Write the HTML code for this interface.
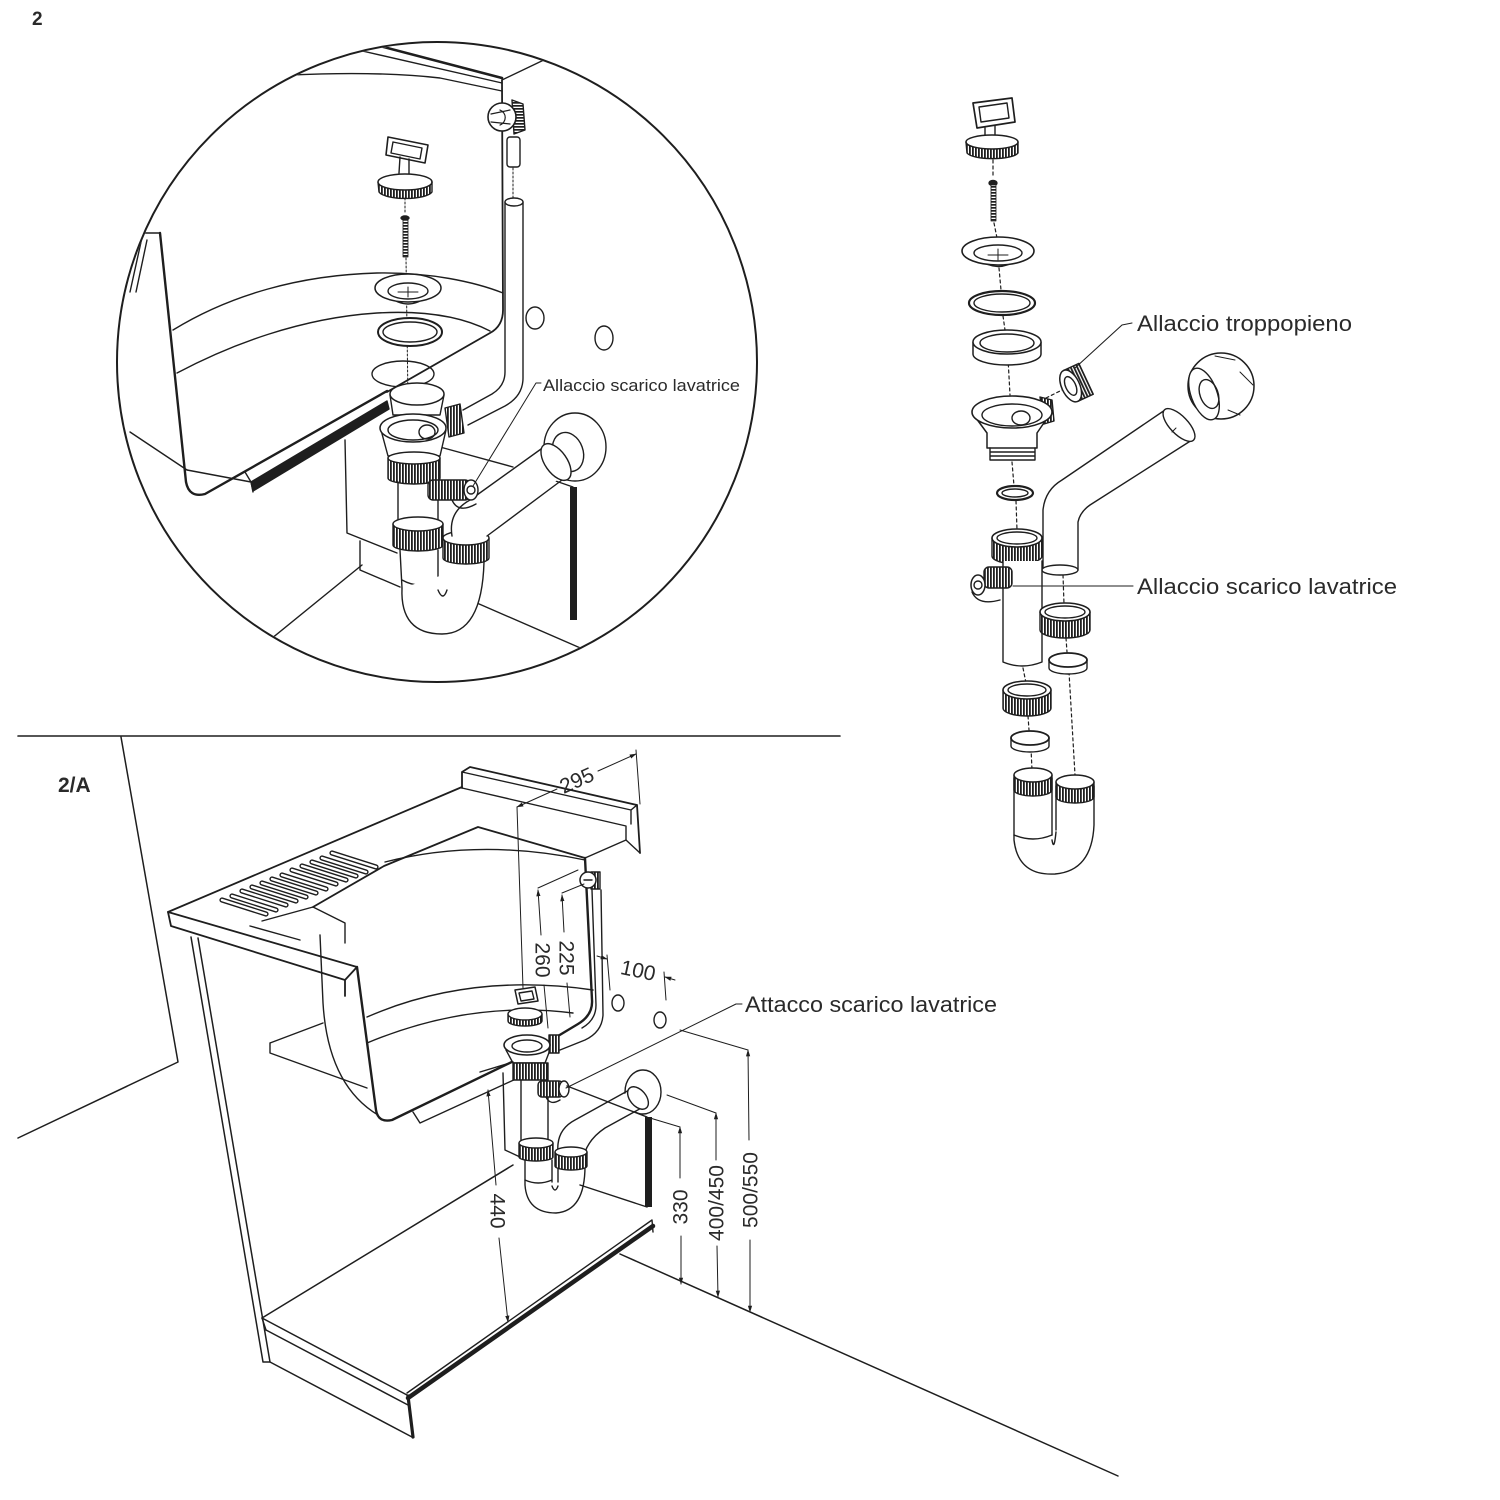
<!DOCTYPE html>
<html><head><meta charset="utf-8"><style>
html,body{margin:0;padding:0;background:#fff;}
svg{display:block;}
text{font-family:"Liberation Sans",Arial,sans-serif;fill:#2a2a2a;}
</style></head><body>
<svg width="1500" height="1500" viewBox="0 0 1500 1500" xmlns="http://www.w3.org/2000/svg">
<defs>
<pattern id="h" width="3" height="4" patternUnits="userSpaceOnUse"><rect width="3" height="4" fill="#fff"/><rect width="1.8" height="4" fill="#1e1e1e"/></pattern>
<pattern id="hh" width="4" height="3" patternUnits="userSpaceOnUse"><rect width="4" height="3" fill="#fff"/><rect width="4" height="1.7" fill="#1e1e1e"/></pattern>
<clipPath id="cc"><circle cx="437" cy="362" r="319"/></clipPath>
<marker id="ar" viewBox="0 0 10 10" refX="9" refY="5" markerWidth="7" markerHeight="7" orient="auto-start-reverse"><path d="M0,2 L10,5 L0,8 Z" fill="#1e1e1e"/></marker>
</defs>

<text x="32" y="25" font-size="19" font-weight="bold">2</text>
<text x="58" y="792" font-size="21" font-weight="bold">2/A</text>

<g fill="none" stroke="#1e1e1e" stroke-width="1.4" stroke-linejoin="round" stroke-linecap="round">

<!-- ============ CIRCLE DETAIL ============ -->
<g clip-path="url(#cc)">
  <path d="M290,75 Q380,71 440,78 L502,91"/>
  <path d="M358,50 L502,83"/>
  <path d="M376,45 L502,78" stroke-width="2.6"/>
  <path d="M502,80 L548,58"/>
  <path d="M502,80 L503,310 Q503,326 490,333 L387,392" stroke-width="1.8"/>
  <path d="M130,292 L143,233 L160,233"/>
  <path d="M136,292 L147,240"/>
  <path d="M160,233 L186,482 Q189,498 205,494 L387,391" stroke-width="2.4"/>
  <path d="M173,330 C230,295 300,275 377,273 C430,272 475,282 503,293"/>
  <path d="M177,373 C230,345 300,318 377,313 C430,310 465,318 490,331"/>
  <polygon points="251,482 387,401 389,409 253,491" fill="#1e1e1e"/>
  <path d="M245,472 L251,482 L253,492"/>
  <path d="M187,470 L251,482"/>
  <path d="M130,432 L187,470"/>

  <path d="M345,440 L347,533 L397,553"/>
  <path d="M360,541 L360,570 L400,587"/>
  <path d="M255,652 L362,565"/>
  <path d="M440,447 L513,467"/>
  <path d="M547,478 L573,487"/>
  <path d="M470,600 L585,650"/>
  <rect x="570" y="487" width="7" height="133" fill="#1e1e1e" stroke="none"/>

  <ellipse cx="535" cy="318" rx="9" ry="11"/>
  <ellipse cx="604" cy="338" rx="9" ry="12"/>

  <path d="M505,202 L505,372 Q505,386 492,394 L463,410" fill="none"/>
  <path d="M523,202 L523,378 Q523,396 505,406 L468,425"/>
  <ellipse cx="514" cy="202" rx="9" ry="4" fill="#fff"/>
  <path d="M513,168 L513,198" stroke-dasharray="2 2" stroke-width="1"/>
  <rect x="507" y="137" width="13" height="30" rx="3" fill="#fff"/>
  <path d="M512,100 L523,104 L525,130 L514,134 Z" fill="url(#hh)"/>
  <circle cx="502" cy="117" r="14" fill="#fff" stroke-width="1.6"/>
  <path d="M491,114 L510,110 M491,122 L510,124 M500,110 A8,8 0 0 1 500,125" stroke-width="1.2"/>

  <polygon points="388,137 428,145 425,163 386,155" fill="#fff" stroke-width="1.6"/>
  <polygon points="393,142 422,148 420,159 391,153"/>
  <path d="M400,157 L399,173 M409,159 L409,174"/>
  <path d="M378,182 L379,192 A27,8 0 0 0 432,192 L432,182 Z" fill="url(#h)"/>
  <ellipse cx="405" cy="182" rx="27" ry="8" fill="#fff" stroke-width="1.5"/>
  <path d="M405,198 L405,214" stroke-dasharray="2 2" stroke-width="1"/>
  <ellipse cx="405" cy="218" rx="4" ry="2" fill="#1e1e1e"/>
  <rect x="403" y="220" width="5" height="37" fill="url(#hh)" stroke-width="0.8"/>
  <path d="M406,258 L409,470" stroke-dasharray="2 2" stroke-width="1"/>
  <path d="M388,296 Q408,312 428,296" fill="#fff"/>
  <ellipse cx="408" cy="288" rx="33" ry="14" fill="#fff" stroke-width="1.5"/>
  <ellipse cx="408" cy="291" rx="20" ry="8"/>
  <path d="M398,292 L418,292 M408,287 L408,297" stroke-width="1"/>
  <ellipse cx="410" cy="332" rx="32" ry="14" fill="#fff" stroke-width="2"/>
  <ellipse cx="410" cy="332" rx="27" ry="10"/>
  <ellipse cx="403" cy="374" rx="31" ry="13"/>
  <path d="M390,395 L393,415 L440,415 L444,395" fill="#fff"/>
  <ellipse cx="417" cy="394" rx="27" ry="11" fill="#fff" stroke-width="1.5"/>
  <path d="M445,408 L460,404 L464,433 L449,437 Z" fill="url(#h)"/>
  <path d="M381,430 L388,456 L440,456 L446,430" fill="#fff"/>
  <ellipse cx="413" cy="428" rx="33" ry="14" fill="#fff" stroke-width="1.5"/>
  <ellipse cx="413" cy="430" rx="25" ry="10"/>
  <ellipse cx="427" cy="432" rx="8" ry="7"/>
  <path d="M388,458 L388,478 A26,6 0 0 0 440,478 L440,458 Z" fill="url(#h)"/>
  <ellipse cx="414" cy="458" rx="26" ry="6" fill="#fff"/>
  <path d="M398,482 L398,523 M438,482 L438,523"/>
  <path d="M393,524 L393,545 A25,6 0 0 0 443,545 L443,524 Z" fill="url(#h)"/>
  <ellipse cx="418" cy="524" rx="25" ry="7" fill="#fff"/>
  <path d="M400,550 L402,588 M438,550 L438,587"/>
  <path d="M402,580 Q420,590 438,580"/>
  <path d="M402,588 Q400,634 442,634 Q482,634 484,562" fill="#fff"/>
  <path d="M438,590 Q443,602 447,590"/>
  <path d="M443,538 L443,558 A23,6 0 0 0 489,558 L489,538 Z" fill="url(#h)"/>
  <ellipse cx="466" cy="538" rx="23" ry="7" fill="#fff"/>
  <!-- rosette (flat) -->
  <ellipse cx="575" cy="447" rx="31" ry="34" fill="#fff" stroke-width="1.4"/>
  <ellipse cx="568" cy="452" rx="15" ry="20" transform="rotate(-20 568 452)"/>
  <path d="M452,536 Q448,512 470,500 L550,445 L570,470 L487,536 Z" fill="#fff" stroke="none"/>
  <path d="M452,536 Q448,512 470,500 L548,444"/>
  <path d="M487,536 L562,480"/>
  <ellipse cx="556" cy="462" rx="11" ry="21" transform="rotate(-35 556 462)" fill="#fff"/>
  <path d="M452,500 Q458,514 476,504" />
  <rect x="428" y="480" width="42" height="20" rx="5" fill="url(#h)"/>
  <ellipse cx="471" cy="490" rx="7" ry="10" fill="#fff"/>
  <circle cx="471" cy="490" r="4"/>
  <path d="M541,383 L536,383 L473,486" stroke-width="1"/>
</g>
<circle cx="437" cy="362" r="320" stroke-width="2"/>

<path d="M18,736 L840,736" stroke-width="1.6"/>

<!-- ============ EXPLODED VIEW ============ -->
<g>
  <polygon points="973,103 1012,98 1015,122 977,128" fill="#fff" stroke-width="1.7"/>
  <polygon points="979,107 1007,103 1009,118 981,122"/>
  <path d="M985,128 L985,136 M995,126 L995,136"/>
  <path d="M966,142 L967,153 A26,7 0 0 0 1018,153 L1018,142 Z" fill="url(#h)"/>
  <ellipse cx="992" cy="142" rx="26" ry="7" fill="#fff" stroke-width="1.5"/>
  <path d="M993,160 L993,178 M994,223 L997,238 M999,268 L1001,290 M1003,316 L1005,330 M1008,358 L1010,395 M1012,462 L1014,486 M1016,501 L1017,530 M1023,668 L1026,683 M1028,716 L1029,730 M1031,748 L1032,770 M1063,575 L1064,604 M1066,638 L1067,652 M1069,672 L1075,775 M1046,398 L1064,389" stroke-dasharray="3 3" stroke-width="1.2"/>
  <ellipse cx="993" cy="183" rx="4" ry="2.5" fill="#1e1e1e"/>
  <rect x="991" y="185" width="5" height="36" fill="url(#hh)" stroke-width="0.8"/>
  <path d="M978,259 Q998,274 1018,259" fill="#fff"/>
  <ellipse cx="998" cy="251" rx="36" ry="14" fill="#fff" stroke-width="1.6"/>
  <ellipse cx="998" cy="253" rx="24" ry="8"/>
  <path d="M988,255 L1008,255 M998,249 L998,260" stroke-width="1"/>
  <ellipse cx="1002" cy="303" rx="33" ry="12" fill="#fff" stroke-width="2.2"/>
  <ellipse cx="1002" cy="303" rx="28" ry="9"/>
  <path d="M973,342 L973,354 A34,11 0 0 0 1041,354 L1041,342 Z" fill="#fff" stroke-width="1.5"/>
  <ellipse cx="1007" cy="342" rx="34" ry="12" fill="#fff" stroke-width="1.5"/>
  <ellipse cx="1007" cy="343" rx="27" ry="9"/>
  <g transform="rotate(-25 1077 383)">
    <rect x="1070" y="366" width="17" height="34" fill="url(#h)"/>
    <ellipse cx="1070" cy="383" rx="9" ry="17" fill="#fff" stroke-width="1.5"/>
    <ellipse cx="1070" cy="383" rx="5" ry="10"/>
  </g>
  <path d="M1075,368 L1122,325 L1132,323" stroke-width="1.1"/>
  <path d="M973,414 L987,433 L987,448 L1037,448 L1037,433 L1050,414 Z" fill="#fff" stroke-width="1.5"/>
  <path d="M1040,397 L1052,400 L1054,421 L1044,424 Z" fill="url(#h)"/>
  <ellipse cx="1012" cy="412" rx="40" ry="16" fill="#fff" stroke-width="1.6"/>
  <ellipse cx="1012" cy="415" rx="30" ry="11"/>
  <ellipse cx="1021" cy="418" rx="9" ry="7"/>
  <path d="M990,448 L990,460 L1035,460 L1035,448 M990,452 L1035,452 M990,456 L1035,456"/>
  <ellipse cx="1015" cy="493" rx="18" ry="7" fill="#fff" stroke-width="2.2"/>
  <ellipse cx="1015" cy="493" rx="13" ry="4"/>
  <path d="M992,538 L992,556 A25,8 0 0 0 1042,556 L1042,538 Z" fill="url(#h)"/>
  <ellipse cx="1017" cy="538" rx="25" ry="9" fill="#fff" stroke-width="1.5"/>
  <ellipse cx="1017" cy="538" rx="20" ry="6"/>
  <path d="M1003,561 L1003,662 Q1022,670 1042,662 L1042,561" fill="#fff"/>
  <path d="M972,592 Q978,606 1000,600"/>
  <rect x="984" y="567" width="28" height="21" rx="5" fill="url(#h)"/>
  <ellipse cx="978" cy="585" rx="7" ry="10" fill="#fff" stroke-width="1.5"/>
  <circle cx="978" cy="585" r="4"/>
  <path d="M1013,586 L1133,586" stroke-width="1.1"/>
  <path d="M1043,570 L1043,510 Q1045,490 1062,480 L1166,410 L1190,440 L1090,505 Q1080,512 1078,522 L1078,570 Z" fill="#fff" stroke="none"/>
  <path d="M1043,570 L1043,510 Q1045,490 1062,480 L1165,410"/>
  <path d="M1078,570 L1078,522 Q1080,512 1090,505 L1192,440"/>
  <ellipse cx="1060" cy="570" rx="18" ry="5" fill="#fff"/>
  <ellipse cx="1179" cy="425" rx="21" ry="9" transform="rotate(46 1179 425)" fill="#fff"/>
  <path d="M1172,432 L1176,428" stroke-width="1"/>
  <ellipse cx="1221" cy="386" rx="33" ry="33" fill="#fff" stroke-width="1.5"/>
  <ellipse cx="1204" cy="394" rx="13" ry="27" transform="rotate(-20 1204 394)" fill="#fff"/>
  <ellipse cx="1209" cy="394" rx="9" ry="15" transform="rotate(-20 1209 394)"/>
  <path d="M1215,356 L1235,360 M1240,372 L1253,385 M1228,410 L1240,415" stroke-width="1"/>
  <path d="M1040,612 L1040,630 A25,8 0 0 0 1090,630 L1090,612 Z" fill="url(#h)"/>
  <ellipse cx="1065" cy="612" rx="25" ry="9" fill="#fff" stroke-width="1.5"/>
  <ellipse cx="1065" cy="612" rx="20" ry="6"/>
  <path d="M1049,660 L1049,668 A19,6 0 0 0 1087,668 L1087,660 Z" fill="#fff"/>
  <ellipse cx="1068" cy="660" rx="19" ry="7" fill="#fff" stroke-width="1.8"/>
  <path d="M1003,690 L1003,708 A24,8 0 0 0 1051,708 L1051,690 Z" fill="url(#h)"/>
  <ellipse cx="1027" cy="690" rx="24" ry="9" fill="#fff" stroke-width="1.5"/>
  <ellipse cx="1027" cy="690" rx="19" ry="6"/>
  <path d="M1011,738 L1011,746 A19,6 0 0 0 1049,746 L1049,738 Z" fill="#fff"/>
  <ellipse cx="1030" cy="738" rx="19" ry="7" fill="#fff" stroke-width="1.8"/>
  <path d="M1014,778 L1014,840 Q1018,876 1055,874 Q1092,871 1094,825 L1094,786" fill="#fff"/>
  <path d="M1052,778 L1052,835 M1056,786 L1056,830"/>
  <path d="M1014,835 Q1033,843 1052,835"/>
  <path d="M1052,840 Q1054,852 1056,832"/>
  <path d="M1014,775 L1014,790 A19,6 0 0 0 1052,790 L1052,775 Z" fill="url(#h)"/>
  <ellipse cx="1033" cy="775" rx="19" ry="7" fill="#fff" stroke-width="1.5"/>
  <path d="M1056,782 L1056,797 A19,6 0 0 0 1094,797 L1094,782 Z" fill="url(#h)"/>
  <ellipse cx="1075" cy="782" rx="19" ry="7" fill="#fff" stroke-width="1.5"/>
</g>

<!-- ============ 2/A DRAWING ============ -->
<path d="M121,737 L178,1062 L18,1138" stroke-width="1.5"/>
<path d="M620,1254 L1118,1476" stroke-width="1.5"/>

<path d="M191,937 L263,1362 M198,938 L270,1362 M263,1362 L270,1362" stroke-width="1.5"/>
<path d="M262,1318 L513,1165" stroke-width="1.5"/>
<path d="M262,1318 L407,1395 M266,1330 L408,1405 M270,1362 L412,1437" stroke-width="1.5"/>
<path d="M262,1318 L266,1330"/>
<path d="M408,1396 L413,1437" stroke-width="3.2"/>
<path d="M408,1398 L653,1226" stroke-width="4.5"/>
<path d="M407,1393 L652,1220 L653,1232"/>

<path d="M168,912 L462,787" stroke-width="1.8"/>
<path d="M168,912 L357,967 M168,912 L171,926 L345,980 L357,967 M345,980 L345,996" stroke-width="1.8"/>
<path d="M462,788 L462,772 L470,767 L637,805 L640,853" stroke-width="1.8"/>
<path d="M462,772 L631,810 L637,805 M631,810 L631,824"/>
<path d="M462,788 L626,826 L626,840 L585,858"/>
<path d="M626,840 L640,853"/>
<g stroke-width="5.2" stroke="#1e1e1e">
  <path d="M222,900 l44,14 M232,896 l44,14 M242,891 l44,14 M252,887 l44,14 M262,883 l44,14 M272,879 l44,14 M282,875 l44,14 M292,870 l44,14 M302,866 l44,14 M312,862 l44,14 M322,858 l44,14 M332,853 l44,14"/>
</g>
<g stroke-width="2.4" stroke="#fff">
  <path d="M222,900 l44,14 M232,896 l44,14 M242,891 l44,14 M252,887 l44,14 M262,883 l44,14 M272,879 l44,14 M282,875 l44,14 M292,870 l44,14 M302,866 l44,14 M312,862 l44,14 M322,858 l44,14 M332,853 l44,14"/>
</g>
<path d="M262,921 L313,907 L345,923 L345,943"/>
<path d="M250,926 L300,940"/>
<path d="M313,907 L384,866 L478,827 L585,858" stroke-width="1.8"/>
<path d="M385,862 Q480,838 585,860"/>
<path d="M585,858 L592,1000 Q593,1015 578,1024 L548,1042" stroke-width="2.4"/>
<path d="M357,967 L376,1110 Q378,1123 392,1120 L520,1058" stroke-width="2.4"/>
<path d="M320,935 L323,1003 Q328,1085 378,1115"/>
<path d="M367,1017 Q470,972 593,990"/>
<path d="M367,1043 Q470,1000 573,1013"/>
<path d="M270,1043 L323,1023 M270,1043 L270,1053 L367,1088"/>
<path d="M413,1112 L420,1123 L518,1078"/>

<path d="M592,890 L596,1005 Q596,1020 582,1028"/>
<path d="M601,890 L603,1015 Q602,1032 585,1040 L560,1050"/>
<rect x="591" y="872" width="9" height="17" fill="url(#h)"/>
<circle cx="588" cy="880" r="8" fill="#fff" stroke-width="1.5"/>
<path d="M584,880 L592,880"/>

<polygon points="515,990 535,987 538,1001 518,1004" fill="#fff" stroke-width="1.5"/>
<polygon points="519,993 532,991 534,999 521,1001"/>
<path d="M508,1014 L508,1021 A17,5 0 0 0 542,1021 L542,1014 Z" fill="url(#h)"/>
<ellipse cx="525" cy="1014" rx="17" ry="6" fill="#fff"/>
<path d="M506,1050 L513,1063 L545,1063 L550,1050" fill="#fff"/>
<rect x="549" y="1035" width="10" height="18" fill="url(#h)"/>
<ellipse cx="527" cy="1045" rx="23" ry="10" fill="#fff" stroke-width="1.6"/>
<ellipse cx="527" cy="1046" rx="15" ry="6"/>
<rect x="513" y="1063" width="35" height="17" fill="url(#h)"/>
<path d="M521,1080 L521,1141 M548,1080 L548,1141"/>
<path d="M519,1143 L519,1157 A17,4 0 0 0 553,1157 L553,1143 Z" fill="url(#h)"/>
<ellipse cx="536" cy="1143" rx="17" ry="5" fill="#fff"/>
<path d="M525,1160 L525,1185 Q527,1213 556,1213 Q585,1211 585,1166"/>
<path d="M552,1160 L552,1182 M558,1166 L558,1182 M552,1186 Q555,1194 558,1186 M525,1180 Q538,1186 552,1180"/>
<ellipse cx="643" cy="1092" rx="18" ry="22" fill="#fff"/>
<path d="M558,1152 Q556,1130 575,1120 L632,1090 L645,1106 L605,1128 Q590,1138 585,1152 Z" fill="#fff" stroke="none"/>
<path d="M558,1152 Q556,1130 575,1120 L631,1089"/>
<path d="M585,1152 Q590,1138 605,1128 L645,1106"/>
<ellipse cx="638" cy="1098" rx="8" ry="13" transform="rotate(-40 638 1098)" fill="#fff"/>
<path d="M555,1152 L555,1166 A16,4 0 0 0 587,1166 L587,1152 Z" fill="url(#h)"/>
<ellipse cx="571" cy="1152" rx="16" ry="5" fill="#fff"/>
<rect x="538" y="1081" width="25" height="16" rx="4" fill="url(#h)"/>
<ellipse cx="564" cy="1089" rx="5" ry="8" fill="#fff"/>
<path d="M546,1097 Q550,1106 560,1100"/>
<path d="M567,1086 L647,1117"/>
<rect x="645" y="1117" width="7" height="90" fill="#1e1e1e" stroke="none"/>
<path d="M580,1185 L647,1207"/>
<path d="M480,1072 L513,1062 M503,1073 L505,1150 L520,1157"/>
<ellipse cx="618" cy="1003" rx="6" ry="8"/>
<ellipse cx="660" cy="1020" rx="6" ry="8"/>

<g stroke-width="1" >
  <path d="M517,807 L557,789" marker-start="url(#ar)"/>
  <path d="M598,771 L636,754" marker-end="url(#ar)"/>
  <path d="M636,750 L640,804"/>
  <path d="M517,807 L523,988"/>
  <path d="M538,888 L578,870"/>
  <path d="M538,890 L541,935" marker-start="url(#ar)"/>
  <path d="M544,985 L548,1028"/>
  <path d="M562,893 L584,884"/>
  <path d="M562,895 L564,932" marker-start="url(#ar)"/>
  <path d="M567,983 L570,1017"/>
  <path d="M597,956 L607,959" marker-end="url(#ar)"/>
  <path d="M607,955 L610,990"/>
  <path d="M675,980 L665,977" marker-end="url(#ar)"/>
  <path d="M664,972 L666,1000"/>
  <path d="M488,1090 L496,1185" marker-start="url(#ar)"/>
  <path d="M499,1238 L508,1322" marker-end="url(#ar)"/>
  <path d="M650,1118 L680,1127"/>
  <path d="M680,1127 L680,1178" marker-start="url(#ar)"/>
  <path d="M681,1236 L681,1284" marker-end="url(#ar)"/>
  <path d="M667,1095 L716,1113"/>
  <path d="M716,1113 L716,1160" marker-start="url(#ar)"/>
  <path d="M717,1246 L718,1297" marker-end="url(#ar)"/>
  <path d="M680,1030 L748,1050"/>
  <path d="M748,1050 L749,1140" marker-start="url(#ar)"/>
  <path d="M750,1240 L750,1312" marker-end="url(#ar)"/>
  <path d="M742,1004 L736,1004 L566,1088"/>
</g>
</g>

<g font-size="21" text-anchor="middle" dominant-baseline="central">
  <text transform="translate(577,781) rotate(-24)">295</text>
  <text transform="translate(542,960) rotate(90)">260</text>
  <text transform="translate(566,958) rotate(90)">225</text>
  <text transform="translate(638,971) rotate(12)">100</text>
  <text transform="translate(497,1211) rotate(90)">440</text>
  <text transform="translate(681,1207) rotate(-90)">330</text>
  <text transform="translate(717,1203) rotate(-90)">400/450</text>
  <text transform="translate(751,1190) rotate(-90)">500/550</text>
</g>

<text x="543" y="391" font-size="17" textLength="197" lengthAdjust="spacingAndGlyphs">Allaccio scarico lavatrice</text>
<text x="1137" y="331" font-size="22" textLength="215" lengthAdjust="spacingAndGlyphs">Allaccio troppopieno</text>
<text x="1137" y="594" font-size="22" textLength="260" lengthAdjust="spacingAndGlyphs">Allaccio scarico lavatrice</text>
<text x="745" y="1012" font-size="22" textLength="252" lengthAdjust="spacingAndGlyphs">Attacco scarico lavatrice</text>
</svg>
</body></html>
